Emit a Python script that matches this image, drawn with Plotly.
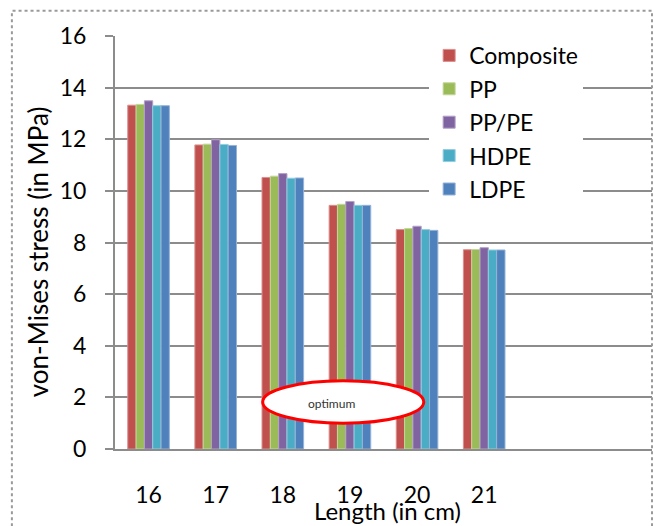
import plotly.graph_objects as go

# Beam length (cm) and von-Mises stress (MPa) for each material
lengths = [16, 17, 18, 19, 20, 21]
composite = [13.32, 11.78, 10.52, 9.44, 8.50, 7.72]
pp = [13.35, 11.81, 10.57, 9.48, 8.54, 7.73]
pp_pe = [13.49, 11.98, 10.67, 9.59, 8.63, 7.80]
hdpe = [13.30, 11.80, 10.49, 9.44, 8.50, 7.71]
ldpe = [13.30, 11.76, 10.50, 9.44, 8.47, 7.71]

series = [
    ("Composite", composite, "#C0504D", "#D9908E"),
    ("PP", pp, "#9BBB59", "#C3D69B"),
    ("PP/PE", pp_pe, "#8064A2", "#B3A2C7"),
    ("HDPE", hdpe, "#4BACC6", "#93CDDD"),
    ("LDPE", ldpe, "#4F81BD", "#95B3D7"),
]

FONT = "Lato, Calibri, Carlito, sans-serif"

fig = go.Figure()
for i, (name, vals, col, edge) in enumerate(series):
    fig.add_trace(go.Bar(
        x=lengths, y=vals, name=name,
        marker=dict(color=col, line=dict(color=edge, width=1)),
        legendgroup=f"g{i}",
    ))

fig.update_layout(
    width=654, height=526,
    margin=dict(l=115, r=2, t=36, b=77),
    paper_bgcolor="white", plot_bgcolor="white",
    barmode="group", bargap=0.38, bargroupgap=0,
    font=dict(family=FONT, size=23, color="black"),
    showlegend=True,
    legend=dict(
        x=0.585, y=1.005, xanchor="left", yanchor="top",
        bgcolor="white", borderwidth=0,
        font=dict(family=FONT, size=23, color="black"),
        tracegroupgap=0.5, traceorder="grouped",
    ),
    xaxis=dict(
        range=[15.5, 23.5], tickvals=lengths,
        ticktext=[str(v) for v in lengths],
        showgrid=False, zeroline=False,
        showline=True, linecolor="#8c8c8c", linewidth=2,
        ticks="", ticklabelstandoff=24,
        tickfont=dict(family=FONT, size=23, color="black"),
    ),
    yaxis=dict(
        range=[0, 16], tickvals=list(range(0, 17, 2)),
        showgrid=True, gridcolor="#8c8c8c", gridwidth=1.5,
        zeroline=False,
        showline=True, linecolor="#8c8c8c", linewidth=2,
        ticks="outside", ticklen=8, tickcolor="#8c8c8c", tickwidth=1.5,
        ticklabelstandoff=14,
        tickfont=dict(family=FONT, size=23, color="black"),
    ),
)

# Axis titles
fig.add_annotation(
    text="Length (in cm)", xref="paper", yref="paper",
    x=0.508, y=-0.15, xanchor="center", yanchor="middle",
    showarrow=False, font=dict(family=FONT, size=24, color="black"),
)
fig.add_annotation(
    text="von-Mises stress (in MPa)", xref="paper", yref="paper",
    x=-0.143, y=0.477, xanchor="center", yanchor="middle", textangle=-90,
    showarrow=False, font=dict(family=FONT, size=26, color="black"),
)

# Highlight ellipse
fig.add_shape(
    type="circle", xref="x", yref="y",
    x0=17.7, x1=20.1, y0=1.0, y1=2.64,
    line=dict(color="#FF0000", width=3), fillcolor="white", layer="above",
)
fig.add_annotation(
    text="optimum", xref="x", yref="y", x=18.72, y=1.75,
    showarrow=False, font=dict(family=FONT, size=12, color="#333333"),
)

# Dotted chart border
fig.add_shape(
    type="rect", xref="paper", yref="paper",
    x0=-0.192, x1=1.0, y0=-0.25, y1=1.061,
    line=dict(color="#9a9a9a", width=2, dash="dot"), layer="above",
)

fig.write_html("out.html")
